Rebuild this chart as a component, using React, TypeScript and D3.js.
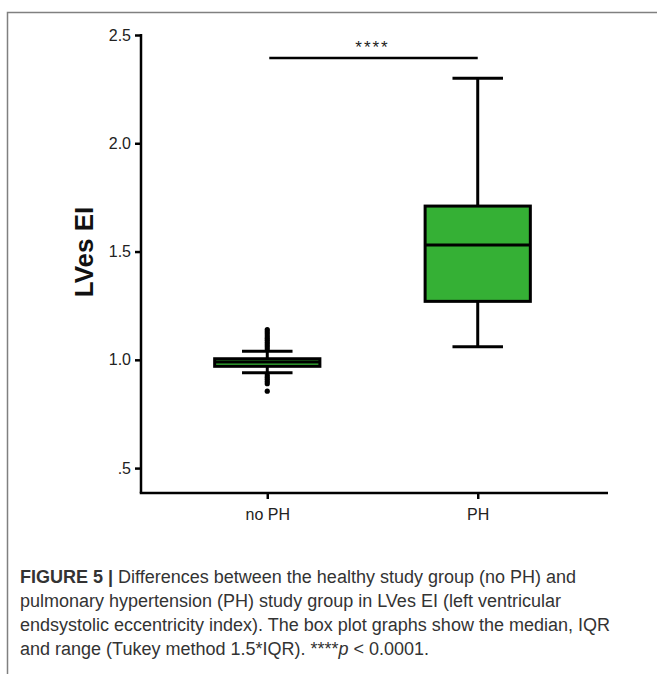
import React, { useEffect, useRef } from 'react';
import * as d3 from 'd3';

// groups on the x axis
const categories = ['no PH', 'PH'];
// box statistics: [whisker low, Q1, median, Q3, whisker high]
const whiskerLow = [0.94, 1.06];
const quartile1 = [0.97, 1.27];
const medians = [0.99, 1.53];
const quartile3 = [1.005, 1.71];
const whiskerHigh = [1.04, 2.30];
// outliers of the no PH group (PH has none)
const outliersNoPH = [1.05, 1.06, 1.07, 1.08, 1.09, 1.10, 1.11, 1.12, 1.13, 1.14, 0.93, 0.92, 0.91, 0.90, 0.89, 0.855];
const yTicks = [0.5, 1.0, 1.5, 2.0, 2.5];
const yTickLabels = ['.5', '1.0', '1.5', '2.0', '2.5'];
const sigLabel = '****';
const sigLevel = 2.394;

const captionLines = [
    [{t: 'FIGURE 5 | ', b: true}, {t: 'Differences between the healthy study group (no PH) and'}],
    [{t: 'pulmonary hypertension (PH) study group in LVes EI (left ventricular'}],
    [{t: 'endsystolic eccentricity index). The box plot graphs show the median, IQR'}],
    [{t: 'and range (Tukey method 1.5*IQR). ****'}, {t: 'p', i: true}, {t: ' < 0.0001.'}],
];

const W = 657, H = 674;
const margin = {left: 141, top: 35, bottom: 493, right: 604};
const green = '#35b035';

export default function App() {
    const ref = useRef<SVGSVGElement>(null);

    useEffect(() => {
        const svg = d3.select(ref.current);
        svg.selectAll('*').remove();

        // outer frame
        svg.append('rect')
            .attr('x', 7.5).attr('y', 12.5)
            .attr('width', 700).attr('height', 700)
            .attr('fill', 'none')
            .attr('stroke', '#808080')
            .attr('stroke-width', 1.5);

        const x = d3.scalePoint<string>()
            .domain(categories)
            .range([margin.left, margin.right])
            .padding(0.6);
        const y = d3.scaleLinear()
            .domain([0.385, 2.5])
            .range([margin.bottom, margin.top]);

        const yAxis = svg.append('g')
            .attr('transform', 'translate(' + margin.left + ',0)')
            .call(d3.axisLeft(y)
                .tickValues(yTicks)
                .tickFormat((d, i) => yTickLabels[i])
                .tickSize(6)
                .tickSizeOuter(0)
                .tickPadding(4));
        yAxis.select('.domain').remove();
        yAxis.selectAll('line').attr('stroke', '#000').attr('stroke-width', 2.5);
        yAxis.selectAll('text')
            .attr('font-family', 'Liberation Sans, Arial, sans-serif')
            .attr('font-size', 16)
            .attr('fill', '#222');
        svg.append('line')
            .attr('x1', margin.left).attr('x2', margin.left)
            .attr('y1', y(2.5) - 1).attr('y2', margin.bottom)
            .attr('stroke', '#000').attr('stroke-width', 2.5);

        const xAxis = svg.append('g')
            .attr('transform', 'translate(0,' + margin.bottom + ')')
            .call(d3.axisBottom(x).tickSize(6).tickSizeOuter(0).tickPadding(10));
        xAxis.select('.domain').remove();
        xAxis.selectAll('line').attr('stroke', '#000').attr('stroke-width', 2.5);
        xAxis.selectAll('text')
            .attr('font-family', 'Liberation Sans, Arial, sans-serif')
            .attr('font-size', 16)
            .attr('fill', '#222');
        svg.append('line')
            .attr('x1', margin.left - 1.25).attr('x2', 608)
            .attr('y1', margin.bottom).attr('y2', margin.bottom)
            .attr('stroke', '#000').attr('stroke-width', 2.5);

        // y axis title
        svg.append('text')
            .attr('transform', 'translate(93,' + 252 + ') rotate(-90)')
            .attr('text-anchor', 'middle')
            .attr('font-family', 'Liberation Sans, Arial, sans-serif')
            .attr('font-weight', 'bold')
            .attr('font-size', 26)
            .attr('fill', '#111')
            .text('LVes EI');

        const boxW = x.step() * 0.5;
        const capW = boxW * 0.48;

        categories.forEach((c, i) => {
            const cx = x(c)!;
            const g = svg.append('g');
            // whiskers
            g.append('line')
                .attr('x1', cx).attr('x2', cx)
                .attr('y1', y(whiskerHigh[i])).attr('y2', y(whiskerLow[i]))
                .attr('stroke', '#000').attr('stroke-width', 3);
            [whiskerLow[i], whiskerHigh[i]].forEach(v => {
                g.append('line')
                    .attr('x1', cx - capW / 2).attr('x2', cx + capW / 2)
                    .attr('y1', y(v)).attr('y2', y(v))
                    .attr('stroke', '#000').attr('stroke-width', 3);
            });
            g.append('rect')
                .attr('x', cx - boxW / 2)
                .attr('y', y(quartile3[i]))
                .attr('width', boxW)
                .attr('height', y(quartile1[i]) - y(quartile3[i]))
                .attr('fill', green)
                .attr('stroke', '#000')
                .attr('stroke-width', 3);
            g.append('line')
                .attr('x1', cx - boxW / 2).attr('x2', cx + boxW / 2)
                .attr('y1', y(medians[i])).attr('y2', y(medians[i]))
                .attr('stroke', '#000').attr('stroke-width', 3);
        });

        svg.append('g')
            .selectAll('circle')
            .data(outliersNoPH)
            .enter()
            .append('circle')
            .attr('cx', x('no PH')!)
            .attr('cy', d => y(d))
            .attr('r', 2.6)
            .attr('fill', '#000');

        // significance bar
        svg.append('line')
            .attr('x1', x('no PH')! + 2).attr('x2', x('PH')!)
            .attr('y1', y(sigLevel)).attr('y2', y(sigLevel))
            .attr('stroke', '#000').attr('stroke-width', 2.5);
        svg.append('text')
            .attr('x', (x('no PH')! + x('PH')!) / 2)
            .attr('y', y(sigLevel) - 5)
            .attr('text-anchor', 'middle')
            .attr('font-family', 'Liberation Sans, Arial, sans-serif')
            .attr('font-size', 17)
            .attr('letter-spacing', 2)
            .attr('fill', '#222')
            .text(sigLabel);

        // caption
        captionLines.forEach((parts, i) => {
            const t = svg.append('text')
                .attr('x', 20)
                .attr('y', 583 + i * 24)
                .attr('font-family', 'Liberation Sans, Arial, sans-serif')
                .attr('font-size', 18)
                .attr('fill', '#333');
            parts.forEach((p: any) => {
                t.append('tspan')
                    .attr('font-weight', p.b ? 'bold' : null)
                    .attr('font-style', p.i ? 'italic' : null)
                    .text(p.t);
            });
        });
    }, []);

    return (
        <svg ref={ref} width={W} height={H}
            style={{position: 'absolute', left: 0, top: 0, background: '#fff'}} />
    );
}
